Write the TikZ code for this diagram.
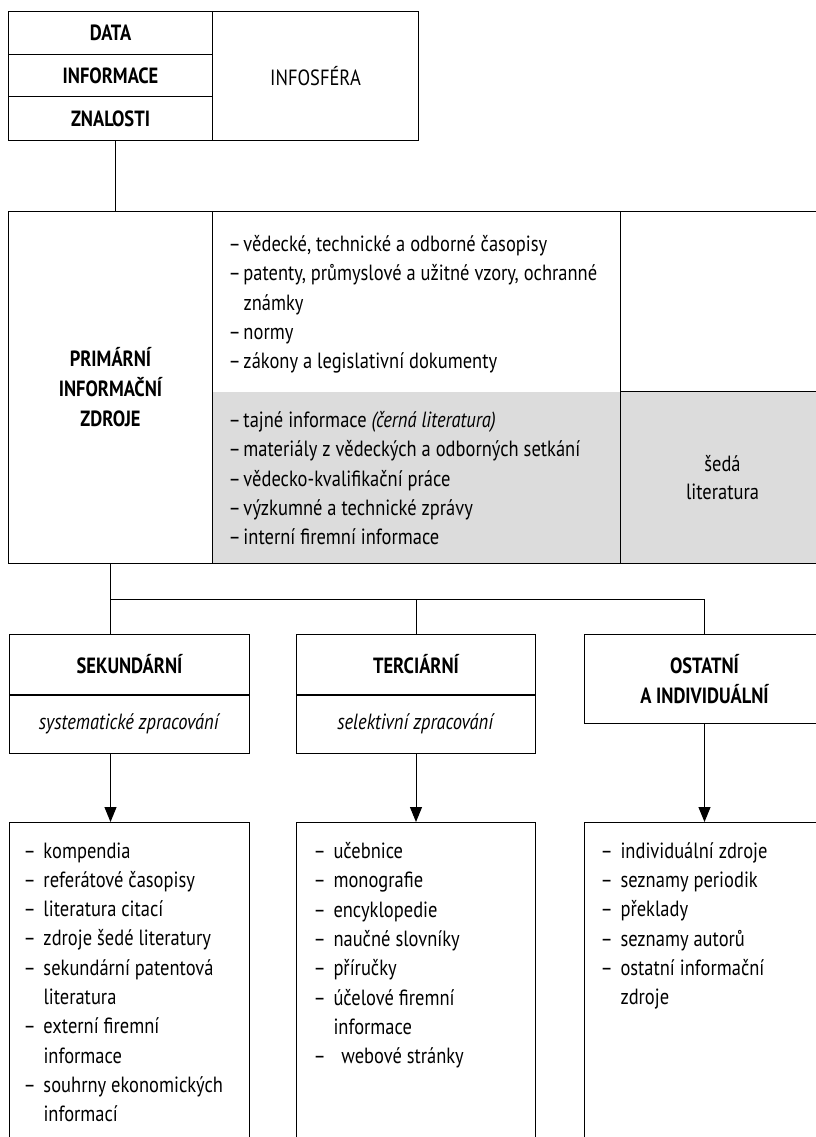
\documentclass[tikz,border=0pt]{standalone}
\usepackage{fontspec}
\setmainfont{PT Sans}[FakeStretch=0.84]
\usetikzlibrary{arrows.meta}
\definecolor{greylit}{RGB}{220,220,220}
\newcommand{\dashitem}[1][20pt]{\makebox[#1][l]{–}}
\newcommand{\dashcont}[1][20pt]{\hspace*{#1}}
\tikzset{
  cell/.style={draw, anchor=north west, inner sep=0pt, align=center},
  headtext/.style={font=\fontsize{22}{30}\selectfont\bfseries},
  plaintext/.style={font=\fontsize{22}{28}\selectfont},
  listtext/.style={anchor=north west, inner sep=0pt, align=left, font=\fontsize{22}{29.3}\selectfont},
  pointer/.style={-{Triangle[length=15pt,width=12pt]}},
}
\begin{document}
\begin{tikzpicture}[x=1pt,y=-1pt,line width=1pt]
\useasboundingbox (0,0) rectangle (815,1137);

% top block
\node[cell, headtext, minimum width=204pt, minimum height=43pt] (data) at (8,11) {DATA};
\node[cell, headtext, minimum width=204pt, minimum height=42pt] (info) at (8,54) {INFORMACE};
\node[cell, headtext, minimum width=204pt, minimum height=44pt] (know) at (8,96) {ZNALOSTI};
\node[cell, plaintext, minimum width=206pt, minimum height=129pt] (sphere) at (212,11) {INFOSFÉRA};

% primary sources
\node[cell, draw=none, fill=greylit, minimum width=408pt, minimum height=172pt] (primgreyfill) at (212,391) {};
\node[cell, fill=greylit, plaintext, minimum width=204pt, minimum height=172pt] (grey) at (620,391) {šedá\\literatura};
\node[cell, minimum width=204pt, minimum height=180pt] (blank) at (620,211) {};
\node[cell, minimum width=408pt, minimum height=352pt] (primmid) at (212,211) {};
\node[cell, headtext, minimum width=204pt, minimum height=352pt] (prim) at (8,211) {PRIMÁRNÍ\\INFORMAČNÍ\\ZDROJE};

\node[listtext] (primwhite) at (228,235) {\dashitem[15pt]vědecké, technické a odborné časopisy\\
\dashitem[15pt]patenty, průmyslové a užitné vzory, ochranné\\
\dashcont[15pt]známky\\
\dashitem[15pt]normy\\
\dashitem[15pt]zákony a legislativní dokumenty};
\node[listtext] (primgrey) at (228,411) {\dashitem[15pt]tajné informace \textit{(černá literatura)}\\
\dashitem[15pt]materiály z vědeckých a odborných setkání\\
\dashitem[15pt]vědecko-kvalifikační práce\\
\dashitem[15pt]výzkumné a technické zprávy\\
\dashitem[15pt]interní firemní informace};

% three branches
\node[cell, headtext, minimum width=240pt, minimum height=60pt] (sek) at (9,634) {SEKUNDÁRNÍ};
\node[cell, plaintext, minimum width=240pt, minimum height=59pt] (sekway) at (9,694) {\textit{systematické zpracování}};
\node[cell, headtext, minimum width=239pt, minimum height=60pt] (terc) at (296,634) {TERCIÁRNÍ};
\node[cell, plaintext, minimum width=239pt, minimum height=59pt] (tercway) at (296,694) {\textit{selektivní zpracování}};
\node[cell, headtext, minimum width=240pt, minimum height=89pt] (ost) at (584,634) {OSTATNÍ\\A INDIVIDUÁLNÍ};
\draw[line width=2pt] (sek.south west) -- (sek.south east);
\draw[line width=2pt] (terc.south west) -- (terc.south east);

\node[cell, minimum width=240pt, minimum height=330pt] (seklist) at (9,822) {};
\node[cell, minimum width=239pt, minimum height=330pt] (terclist) at (296,822) {};
\node[cell, minimum width=240pt, minimum height=330pt] (ostlist) at (584,822) {};

\node[listtext] (sekitems) at (23,842) {\dashitem kompendia\\
\dashitem referátové časopisy\\
\dashitem literatura citací\\
\dashitem zdroje šedé literatury\\
\dashitem sekundární patentová\\
\dashcont literatura\\
\dashitem externí firemní\\
\dashcont informace\\
\dashitem souhrny ekonomických\\
\dashcont informací};
\node[listtext] (tercitems) at (313,842) {\dashitem učebnice\\
\dashitem monografie\\
\dashitem encyklopedie\\
\dashitem naučné slovníky\\
\dashitem příručky\\
\dashitem účelové firemní\\
\dashcont informace\\
\dashitem[23pt] webové stránky};
\node[listtext] (ostitems) at (600,842) {\dashitem individuální zdroje\\
\dashitem seznamy periodik\\
\dashitem překlady\\
\dashitem seznamy autorů\\
\dashitem ostatní informační\\
\dashcont zdroje};

% connectors
\coordinate (split) at (111,599);
\draw ([xshift=5pt]know.south) -- ([xshift=5pt]prim.north);
\draw (prim.south) -- (prim.south |- sek.north);
\draw (prim.south |- split) -| (ost.north);
\draw (terc.north |- split) -- (terc.north);
\draw[pointer] (prim.south |- sekway.south) -- (prim.south |- seklist.north);
\draw[pointer] (tercway.south) -- (terclist.north);
\draw[pointer] (ost.south) -- (ostlist.north);
\end{tikzpicture}
\end{document}
